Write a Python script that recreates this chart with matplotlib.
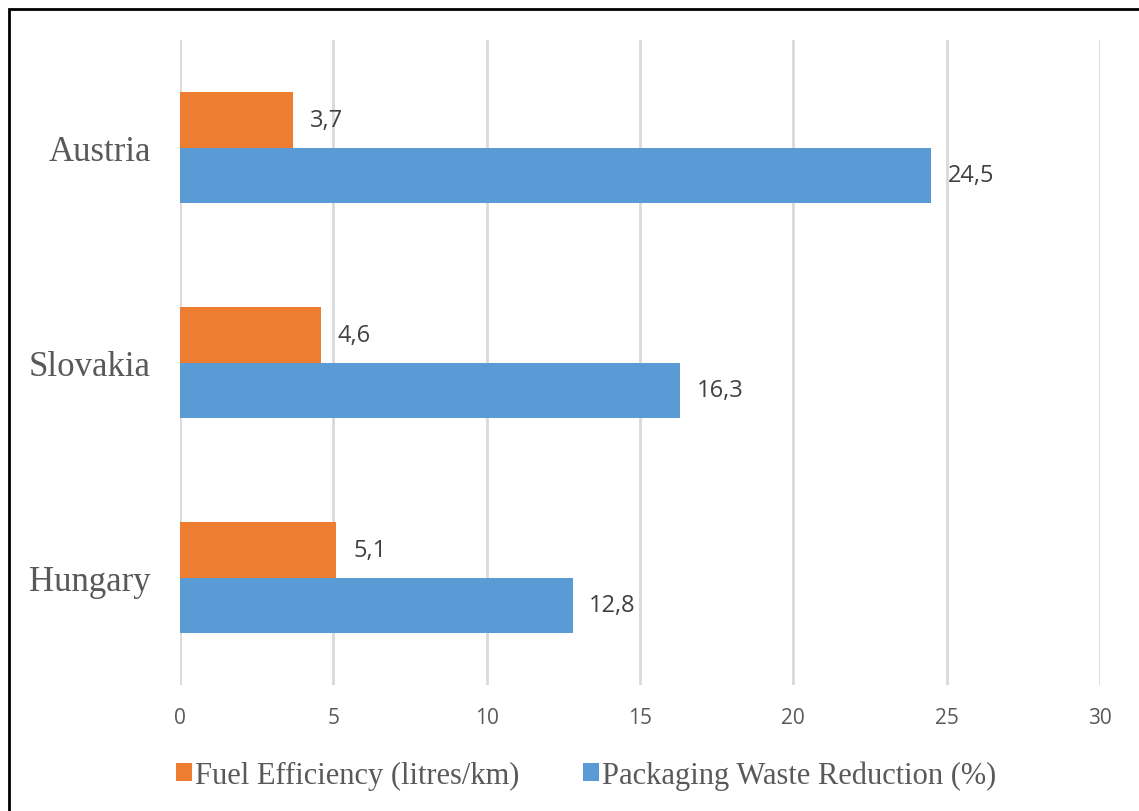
import numpy as np
import matplotlib.pyplot as plt
from matplotlib.patches import Rectangle

countries = ['Hungary', 'Slovakia', 'Austria']
fuel_eff = [5.1, 4.6, 3.7]
waste_red = [12.8, 16.3, 24.5]
series_names = ['Fuel Efficiency (litres/km)', 'Packaging Waste Reduction (%)']
x_ticks = [0, 5, 10, 15, 20, 25, 30]

ORANGE = '#ED7D31'
BLUE = '#5B9BD5'
GREY = '#595959'
GRID = '#D9D9D9'


def fmt(v):
    # decimal comma, as in the source workbook
    return f'{v:.1f}'.replace('.', ',')


fig = plt.figure(figsize=(11.39, 8.12), dpi=100)
ax = fig.add_axes([180 / 1139, 1 - 686 / 812, 920 / 1139, 645 / 812])

y = np.arange(len(countries))
h = 0.26
b1 = ax.barh(y + h / 2, fuel_eff, height=h, color=ORANGE, label=series_names[0])
b2 = ax.barh(y - h / 2, waste_red, height=h, color=BLUE, label=series_names[1])

for bars, vals in [(b1, fuel_eff), (b2, waste_red)]:
    for bar, v in zip(bars, vals):
        ax.annotate(fmt(v), (v, bar.get_y() + bar.get_height() / 2),
                    xytext=(12, 0), textcoords='offset points',
                    va='center', ha='left', fontsize=17,
                    family='Open Sans', color='#404040')

ax.set_xlim(0, 30)
ax.set_ylim(-0.5, 2.5)
ax.set_xticks(x_ticks)
ax.set_xticklabels([str(t) for t in x_ticks], family='Open Sans',
                   fontsize=15, color=GREY)
ax.set_yticks(y)
ax.set_yticklabels(countries, family='Liberation Serif', fontsize=25, color=GREY)
ax.tick_params(axis='both', length=0)
ax.tick_params(axis='x', pad=16)
ax.tick_params(axis='y', pad=21)

ax.xaxis.grid(True, color=GRID, linewidth=2)
ax.set_axisbelow(True)
for s in ax.spines.values():
    s.set_visible(False)

fig.legend(handles=[b1, b2], labels=series_names, loc='center',
           bbox_to_anchor=(586 / 1139, 1 - 776 / 812), ncol=2, frameon=False,
           prop={'family': 'Liberation Serif', 'size': 22},
           labelcolor=GREY, handlelength=0.52, handleheight=0.5,
           handletextpad=0.1, columnspacing=2.1)

# outer chart frame
fig.patches.append(Rectangle((9 / 1139, -0.1), 1.2, (812 - 10) / 812 + 0.1,
                             transform=fig.transFigure, fill=False,
                             edgecolor='black', linewidth=2))

fig.savefig('out.png', dpi=100)
